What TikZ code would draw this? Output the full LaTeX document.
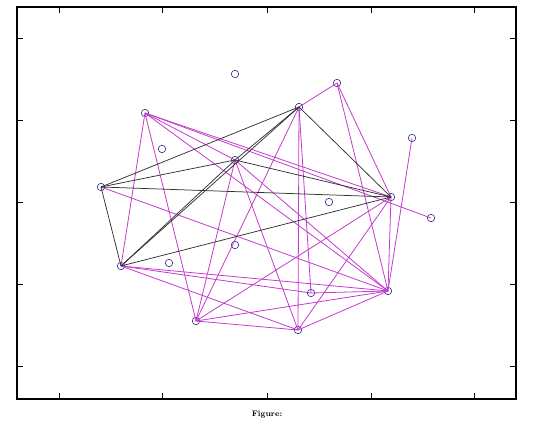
\documentclass[tikz,border=0pt]{standalone}
\usepackage{tikz}
\definecolor{edgepink}{RGB}{196,60,204}
\definecolor{vertexblue}{RGB}{48,48,130}

\begin{document}
\begin{tikzpicture}[x=1pt,y=-1pt,font=\footnotesize,
  vertex/.style={circle,draw=vertexblue,line width=0.6pt,inner sep=0pt,minimum size=7.5pt},
  pinkedge/.style={edgepink,line width=0.8pt},
  darkedge/.style={black!80,line width=0.75pt}]
  \useasboundingbox (0,0) rectangle (559,430);
  % frame with ticks
  \draw[line width=1.1pt] (17,7) rectangle (516,399);
  \foreach \tx in {59,162,267,371,474} {
    \draw[line width=0.8pt] (\tx,7) -- (\tx,13);
    \draw[line width=0.8pt] (\tx,399) -- (\tx,393);
  }
  \foreach \ty in {38,120,202,284,366} {
    \draw[line width=0.8pt] (17,\ty) -- (23,\ty);
    \draw[line width=0.8pt] (516,\ty) -- (510,\ty);
  }
  \node[font=\footnotesize\bfseries] (caption) at (267,415) {Figure:};
  % sensors
  \node[vertex] (s1) at (101,187) {};
  \node[vertex] (s2) at (145,113) {};
  \node[vertex] (s3) at (235,74) {};
  \node[vertex] (s4) at (162,149) {};
  \node[vertex] (s5) at (235,160) {};
  \node[vertex] (s6) at (299,107) {};
  \node[vertex] (s7) at (337,83) {};
  \node[vertex] (s8) at (412,138) {};
  \node[vertex] (s9) at (391,197) {};
  \node[vertex] (s10) at (431,218) {};
  \node[vertex] (s11) at (329,202) {};
  \node[vertex] (s12) at (121,266) {};
  \node[vertex] (s13) at (169,263) {};
  \node[vertex] (s14) at (235,245) {};
  \node[vertex] (s15) at (311,293) {};
  \node[vertex] (s16) at (388,291) {};
  \node[vertex] (s17) at (196,321) {};
  \node[vertex] (s18) at (298,330) {};
  % magenta links
  \foreach \u/\w in {6/7,7/9,7/16,8/16,2/10,2/9,2/12,2/17,2/5,2/16,6/18,6/15,6/17,
    5/17,5/16,5/18,9/16,17/9,17/16,17/18,12/18,12/16,12/15,1/16,15/16,18/16,18/9}
    \draw[pinkedge] (s\u.center) -- (s\w.center);
  % black links
  \foreach \u/\w in {1/6,1/5,1/9,1/12,12/5,5/6,12/6,12/9,5/9,6/9}
    \draw[darkedge] (s\u.center) -- (s\w.center);
\end{tikzpicture}
\end{document}
